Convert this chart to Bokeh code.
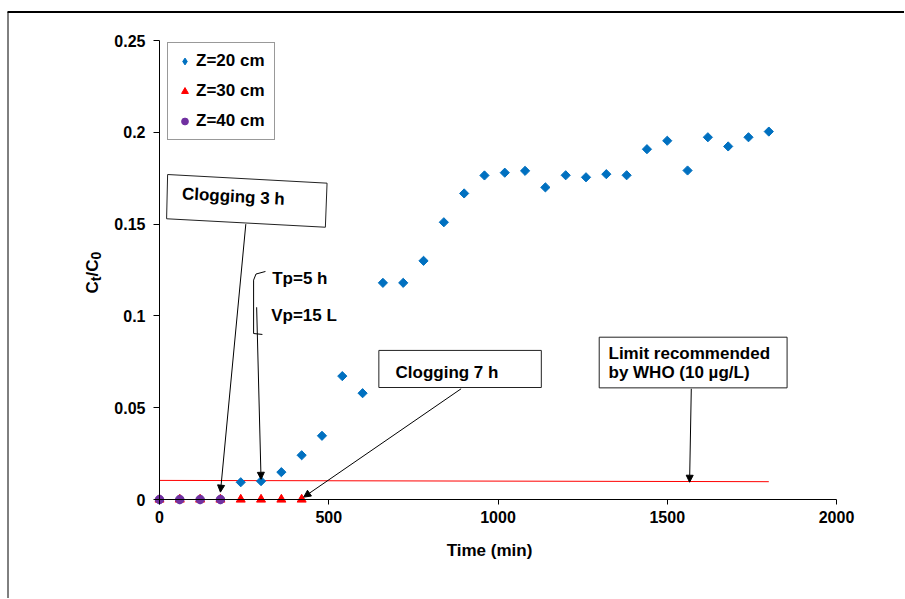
import numpy as np
from bokeh.plotting import figure
from bokeh.models import Range1d, FixedTicker, Label, Arrow, NormalHead, Legend, LegendItem
from bokeh.embed import file_html
from bokeh.resources import INLINE

# ---------------- data ----------------
time_z20 = [0, 60, 120, 180, 240, 300, 360, 420, 480, 540, 600, 660, 720, 780, 840, 900,
            960, 1020, 1080, 1140, 1200, 1260, 1320, 1380, 1440, 1500, 1560, 1620, 1680, 1740, 1800]
ct_z20 = [0, 0, 0, 0, 0.0094, 0.0100, 0.0149, 0.0241, 0.0347, 0.0672, 0.0579, 0.118, 0.118,
          0.130, 0.151, 0.1667, 0.1765, 0.178, 0.179, 0.170, 0.1766, 0.1755, 0.1772, 0.1766,
          0.1908, 0.1954, 0.1792, 0.1973, 0.1923, 0.1973, 0.2004]
time_z30 = [0, 60, 120, 180, 240, 300, 360, 420]
ct_z30 = [0, 0, 0, 0, 0, 0, 0, 0]
time_z40 = [0, 60, 120, 180]
ct_z40 = [0, 0, 0, 0]

limit_x = [0, 1800]
limit_y = [0.0104, 0.0097]

x_ticks = [0, 500, 1000, 1500, 2000]
x_tick_labels = ["0", "500", "1000", "1500", "2000"]
y_ticks = [0, 0.05, 0.1, 0.15, 0.2, 0.25]
y_tick_labels = ["0", "0.05", "0.1", "0.15", "0.2", "0.25"]

series_names = ["Z=20 cm", "Z=30 cm", "Z=40 cm"]

# annotation geometry (data units)
box3_x = [24, 495, 490, 21]
box3_y = [0.1770, 0.1723, 0.1483, 0.1529]
box7 = dict(left=648, right=1128, top=0.0812, bottom=0.0610)
boxwho = dict(left=1299, right=1854, top=0.0884, bottom=0.0608)
brace_x = [313, 285, 278, 278, 304]
brace_y = [0.1242, 0.1228, 0.1195, 0.0904, 0.0899]
arrows = [
    (255, 0.150, 180, 0.004),
    (287, 0.1047, 300, 0.011),
    (891, 0.0603, 426, 0.0013),
    (1571, 0.0603, 1566, 0.0094),
]

FONT = "Liberation Sans"

# ---------------- layout (the frame fills the whole canvas) ----------------
W, H = 904, 598
X0_PX, Y0_PX = 159.0, 499.0          # pixel of x=0 / y=0
PX_PER_MIN = (836.0 - 159.0) / 2000.0
PX_PER_UNIT = (499.0 - 40.0) / 0.25
TXT_SHIFT = 4.0                       # text baseline correction (px)


def px2x(px):
    return (px - X0_PX) / PX_PER_MIN


def px2y(py):
    return (Y0_PX - py) / PX_PER_UNIT


p = figure(x_range=Range1d(px2x(0), px2x(W)), y_range=Range1d(px2y(H), px2y(0)),
           frame_width=W, frame_height=H,
           min_border_left=0, min_border_right=0, min_border_top=0, min_border_bottom=0,
           output_backend="svg", toolbar_location=None,
           background_fill_color="white", border_fill_color="white",
           outline_line_color=None)

p.grid.visible = False
for ax in (p.xaxis[0], p.yaxis[0]):
    ax.fixed_location = 0
    ax.axis_line_color = "black"
    ax.axis_line_width = 1
    ax.major_tick_line_color = "black"
    ax.major_tick_in = 0
    ax.minor_tick_line_color = None
    ax.major_label_text_font = FONT
    ax.major_label_text_font_style = "bold"
    ax.major_label_text_font_size = "16px"
    ax.major_label_text_color = "black"
p.xaxis.bounds = (0, 2000)
p.yaxis.bounds = (0, 0.25)
p.xaxis.ticker = FixedTicker(ticks=x_ticks)
p.yaxis.ticker = FixedTicker(ticks=y_ticks)
p.xaxis.major_label_overrides = {t: l for t, l in zip(x_ticks, x_tick_labels)}
p.yaxis.major_label_overrides = {t: l for t, l in zip(y_ticks, y_tick_labels)}
p.xaxis.major_tick_out = 5
p.yaxis.major_tick_out = 6
p.xaxis.major_label_standoff = 6
p.yaxis.major_label_standoff = 8

# outer chart-area border (top and left edges visible in the reference)
p.line([px2x(7), px2x(W + 5)], [px2y(11.5), px2y(11.5)], line_color="black", line_width=2)
p.line([px2x(7.5), px2x(7.5)], [px2y(11.5), px2y(H + 5)], line_color="black", line_width=1)

# WHO limit line
p.line(limit_x, limit_y, line_color="#ff0000", line_width=1)

# annotation boxes and brace
p.patch(box3_x, box3_y, fill_color="white", line_color="#222222", line_width=1)
p.quad(left=[box7["left"]], right=[box7["right"]], top=[box7["top"]], bottom=[box7["bottom"]],
       fill_color="white", line_color="#222222", line_width=1)
p.quad(left=[boxwho["left"]], right=[boxwho["right"]], top=[boxwho["top"]], bottom=[boxwho["bottom"]],
       fill_color="white", line_color="#222222", line_width=1)
p.line(brace_x, brace_y, line_color="black", line_width=1)

# data series
r20 = p.scatter(time_z20, ct_z20, marker="square", angle=np.pi / 4, size=6.5,
                fill_color="#0070c0", line_color="#0070c0")
r30 = p.scatter(time_z30, ct_z30, marker="triangle", size=9,
                fill_color="#ff0000", line_color="#ff0000")
r40 = p.scatter(time_z40, ct_z40, marker="circle", size=8.5,
                fill_color="#7030a0", line_color="#7030a0")
# legend swatch for the diamond series (draws nothing in the plot)
r20_key = p.scatter(x=[np.nan], y=[np.nan], marker="diamond", size=10,
                    fill_color="#0070c0", line_color="#0070c0")

for xs, ys, xe, ye in arrows:
    p.add_layout(Arrow(end=NormalHead(size=7, fill_color="black", line_color="black"),
                       x_start=xs, y_start=ys, x_end=xe, y_end=ye,
                       line_color="black", line_width=1))


def lab(x, y, text, size="17px", angle=0.0, align="left"):
    p.add_layout(Label(x=x, y=y, text=text, text_font=FONT, text_font_style="bold",
                       text_font_size=size, text_color="black", angle=angle,
                       text_align=align, text_baseline="alphabetic"))


lab(px2x(181.5), px2y(197.2 - TXT_SHIFT), "Clogging 3 h", angle=-0.0545)
lab(px2x(271.7), px2y(282 - TXT_SHIFT), "Tp=5 h")
lab(px2x(270.7), px2y(319 - TXT_SHIFT), "Vp=15 L")
lab(px2x(395), px2y(375.5 - TXT_SHIFT), "Clogging 7 h")
lab(px2x(608), px2y(357 - TXT_SHIFT), "Limit recommended")
lab(px2x(608), px2y(375.5 - TXT_SHIFT), "by WHO (10 µg/L)")

# axis titles
lab(px2x(489), px2y(555 - TXT_SHIFT - 1), "Time (min)", size="17px", align="center")
# C_t / C_0, rotated
main_x, sub_x = px2x(95.5 - TXT_SHIFT), px2x(99.5 - TXT_SHIFT)
ys_px = [293, 280.7, 275.9, 271.2, 258.9]
lab(main_x, px2y(ys_px[0]), "C", size="17px", angle=np.pi / 2)
lab(sub_x, px2y(ys_px[1]), "t", size="14px", angle=np.pi / 2)
lab(main_x, px2y(ys_px[2]), "/", size="17px", angle=np.pi / 2)
lab(main_x, px2y(ys_px[3]), "C", size="17px", angle=np.pi / 2)
lab(sub_x, px2y(ys_px[4]), "0", size="14px", angle=np.pi / 2)

lg = Legend(items=[LegendItem(label=series_names[0], renderers=[r20_key]),
                   LegendItem(label=series_names[1], renderers=[r30]),
                   LegendItem(label=series_names[2], renderers=[r40])],
            location=(167, H - 140))
lg.margin = 0
lg.padding = 8
lg.spacing = 10
lg.glyph_width = 17
lg.glyph_height = 20
lg.label_height = 20
lg.label_width = 70
lg.label_standoff = 3
lg.label_text_font = FONT
lg.label_text_font_style = "bold"
lg.label_text_font_size = "17px"
lg.label_text_color = "black"
lg.border_line_color = "#333333"
lg.border_line_width = 1
lg.background_fill_color = "white"
lg.background_fill_alpha = 1.0
p.add_layout(lg, "center")

open("out.html", "w").write(file_html(p, INLINE))
